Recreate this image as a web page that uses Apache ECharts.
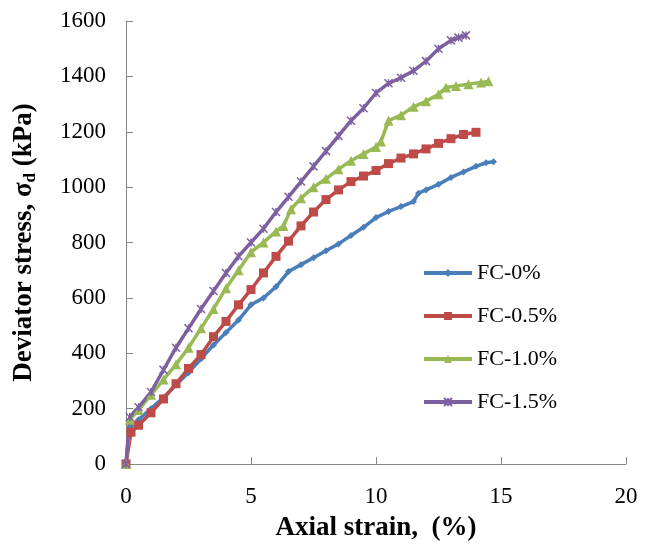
<!DOCTYPE html>
<html><head><meta charset="utf-8">
<script src="https://cdn.jsdelivr.net/npm/echarts@6/dist/echarts.min.js"></script>
<style>html,body{margin:0;padding:0;background:#fff}#c{width:651px;height:551px}</style>
</head><body><div id="c"></div>
<script>
var seriesNames = ['FC-0%', 'FC-0.5%', 'FC-1.0%', 'FC-1.5%'];
var xTicks = [0, 5, 10, 15, 20];
var yTicks = [0, 200, 400, 600, 800, 1000, 1200, 1400, 1600];

var fc0x = [0, 0.15, 0.5, 1.0, 1.5, 2.0, 2.5, 3.0, 3.5, 4.0, 4.5, 5.0, 5.5, 6.0, 6.5, 7.0, 7.5, 8.0, 8.5, 9.0, 9.5, 10.0, 10.5, 11.0, 11.5, 11.7, 12.0, 12.5, 13.0, 13.5, 14.0, 14.4, 14.7];
var fc0y = [0, 130, 160, 200, 240, 285, 330, 380, 430, 475, 520, 575, 600, 640, 695, 720, 745, 770, 795, 825, 855, 890, 912, 930, 948, 978, 990, 1010, 1035, 1055, 1075, 1088, 1092];

var fc05x = [0, 0.2, 0.5, 1.0, 1.5, 2.0, 2.5, 3.0, 3.5, 4.0, 4.5, 5.0, 5.5, 6.0, 6.5, 7.0, 7.5, 8.0, 8.5, 9.0, 9.5, 10.0, 10.5, 11.0, 11.5, 12.0, 12.5, 13.0, 13.5, 14.0];
var fc05y = [0, 115, 140, 185, 235, 290, 345, 395, 460, 515, 575, 630, 690, 750, 805, 860, 910, 955, 990, 1020, 1040, 1060, 1085, 1105, 1120, 1138, 1158, 1175, 1190, 1198];

var fc10x = [0, 0.15, 0.5, 1.0, 1.5, 2.0, 2.5, 3.0, 3.5, 4.0, 4.5, 5.0, 5.5, 6.0, 6.3, 6.6, 7.0, 7.5, 8.0, 8.5, 9.0, 9.5, 10.0, 10.2, 10.5, 11.0, 11.5, 12.0, 12.5, 12.8, 13.2, 13.7, 14.2, 14.5];
var fc10y = [0, 160, 195, 250, 305, 360, 420, 490, 560, 635, 700, 765, 800, 840, 860, 920, 960, 1000, 1030, 1065, 1095, 1120, 1145, 1165, 1240, 1260, 1290, 1310, 1335, 1360, 1365, 1372, 1378, 1382];

var fc15x = [0, 0.15, 0.5, 1.0, 1.5, 2.0, 2.5, 3.0, 3.5, 4.0, 4.5, 5.0, 5.5, 6.0, 6.5, 7.0, 7.5, 8.0, 8.5, 9.0, 9.5, 10.0, 10.5, 11.0, 11.5, 12.0, 12.5, 13.0, 13.3, 13.6];
var fc15y = [0, 170, 205, 260, 340, 420, 490, 560, 625, 690, 750, 800, 850, 910, 965, 1020, 1075, 1130, 1185, 1240, 1285, 1340, 1375, 1395, 1420, 1455, 1500, 1530, 1540, 1548];

var colors = ['#4A7EBB', '#BE4B48', '#98B954', '#7D60A0'];
var symbols = ['diamond', 'rect', 'triangle', 'path://M0,0L10,10M10,0L0,10M5,0L5,10'];
var symbolSizes = [7, 9, 10, 8];
var xs = [fc0x, fc05x, fc10x, fc15x];
var ys = [fc0y, fc05y, fc10y, fc15y];

function zip(a, b) { return a.map(function (v, i) { return [v, b[i]]; }); }

var series = seriesNames.map(function (n, i) {
  return {
    name: n, type: 'line', data: zip(xs[i], ys[i]),
    symbol: symbols[i], symbolSize: symbolSizes[i], showSymbol: true,
    lineStyle: { color: colors[i], width: 3.5 },
    itemStyle: { color: colors[i], borderColor: colors[i], borderWidth: i === 3 ? 1.5 : 0 },
    animation: false
  };
});

var serif = '"Liberation Serif", "DejaVu Serif", serif';
var chart = echarts.init(document.getElementById('c'), null, { renderer: 'canvas' });
chart.setOption({
  animation: false,
  color: colors,
  grid: { left: 126, right: 25, top: 21, bottom: 87, containLabel: false },
  legend: {
    orient: 'vertical', left: 422, top: 262, padding: 0, itemWidth: 48, itemHeight: 10, itemGap: 21,
    lineStyle: { width: 4 },
    textStyle: { fontFamily: serif, fontSize: 22, color: '#000', padding: [0, 0, 0, 0] },
    data: seriesNames
  },
  xAxis: {
    type: 'value', min: 0, max: 20, interval: 5,
    axisLine: { lineStyle: { color: '#868686', width: 1 } },
    axisTick: { inside: true, length: 7, lineStyle: { color: '#868686' } },
    splitLine: { show: false },
    axisLabel: { fontFamily: serif, fontSize: 23, color: '#000', margin: 21, formatter: function (v) { return String(v); } },
    name: 'Axial strain,  (%)', nameLocation: 'middle', nameGap: 51,
    nameTextStyle: { fontFamily: serif, fontSize: 27, fontWeight: 'bold', color: '#000' }
  },
  yAxis: {
    type: 'value', min: 0, max: 1600, interval: 200,
    axisLine: { show: true, lineStyle: { color: '#868686', width: 1 } },
    axisTick: { show: true, inside: true, length: 7, lineStyle: { color: '#868686' } },
    splitLine: { show: false },
    axisLabel: { fontFamily: serif, fontSize: 23, color: '#000', margin: 20, formatter: function (v) { return String(v); } },
    name: '{a|Deviator stress, σ}{s|d}{a| (kPa)}', nameLocation: 'middle', nameGap: 87,
    nameTextStyle: {
      fontFamily: serif, fontSize: 27, fontWeight: 'bold', color: '#000',
      rich: {
        a: { fontFamily: serif, fontSize: 27, fontWeight: 'bold', color: '#000' },
        s: { fontFamily: serif, fontSize: 17, fontWeight: 'bold', color: '#000', padding: [12, 0, 0, 0] }
      }
    }
  },
  series: series
});
</script></body></html>
